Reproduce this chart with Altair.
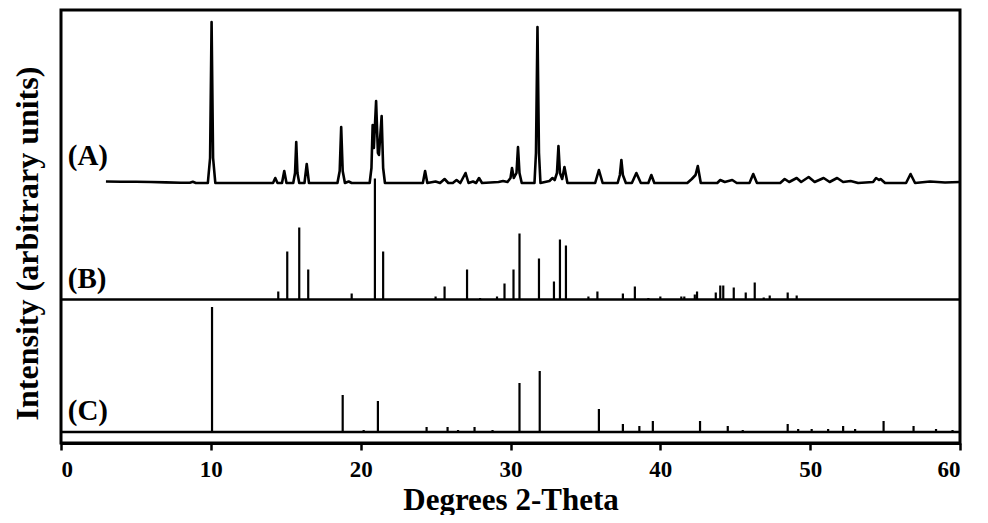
import altair as alt
import pandas as pd

# ---------------- data ----------------
# (A) measured pattern: 2-theta and intensity above its own baseline
a_tth = [3.0, 4.0, 5.0, 6.0, 7.0, 8.0, 8.6, 8.8, 9.0, 9.8, 9.95, 10.05, 10.15, 10.3,
         14.15, 14.3, 14.45, 14.75, 14.9, 15.05, 15.5, 15.62, 15.7, 15.78, 15.9, 16.25, 16.4, 16.55,
         18.45, 18.6, 18.7, 18.8, 18.95, 19.2, 19.4, 20.6, 20.72, 20.8, 20.88, 21.03, 21.15, 21.22,
         21.4, 21.5, 21.62, 24.15, 24.3, 24.45, 25.0, 25.3, 25.6, 25.85, 26.15, 26.4, 26.65,
         27.0, 27.2, 27.5, 27.7, 27.9, 28.1, 29.2, 29.5, 29.8, 30.0, 30.1, 30.22, 30.4, 30.5,
         30.6, 30.75, 31.6, 31.7, 31.8, 31.9, 32.0, 32.6, 32.8, 32.95, 33.1, 33.2, 33.3, 33.45,
         33.6, 33.8, 35.65, 35.9, 36.15, 37.15, 37.3, 37.4, 37.5, 37.7, 38.1, 38.4, 38.7, 39.2,
         39.4, 39.6, 41.8, 42.1, 42.35, 42.5, 42.7, 43.8, 44.0, 44.3, 44.8, 45.1, 45.95, 46.2,
         46.45, 48.0, 48.3, 48.6, 49.1, 49.4, 49.9, 50.3, 50.9, 51.3, 51.8, 52.2, 52.7, 53.2,
         54.2, 54.4, 54.6, 54.7, 55.0, 56.4, 56.7, 57.0, 58.0, 58.5, 59.0, 60.0]
a_int = [1.5, 1.3, 1.2, 1.0, 0.6, 0.3, 0.3, 1.2, 0.0, 0.0, 25, 161, 25, 0.0,
         0.0, 5, 0.0, 0.0, 12, 0.0, 0.0, 10, 41, 10, 0.0, 0.0, 19, 0.0,
         0.0, 12, 56, 12, 0.0, 1.5, 0.0, 0.0, 15, 58, 35, 82, 30, 28,
         67, 15, 0.0, 0.0, 12, 0.0, 1.5, 0.0, 4, 0.0, 0.0, 3, 0.0,
         10, 0.0, 1.5, 0.0, 5, 0.0, 1.0, 2.0, 1.0, 5, 15, 5, 10, 36,
         10, 0.0, 0.0, 30, 156, 30, 0.0, 2.0, 5, 3, 10, 37, 10, 4,
         16, 0.0, 0.0, 13, 0.0, 0.0, 8, 23, 8, 0.0, 0.0, 10, 0.0, 0.0,
         8, 0.0, 0.0, 4, 8, 17, 0.0, 0.0, 3, 1.0, 3, 0.0, 0.0, 9,
         0.0, 0.0, 4, 1.0, 5, 1.0, 6, 1.0, 5, 1.0, 5, 1.0, 2.0, 0.0,
         1.0, 5, 3, 4, 0.0, 0.0, 9, 0.0, 1.5, 1.0, 0.5, 1.0]

# (B) reference stick pattern
b_tth = [14.5, 15.1, 15.9, 16.5, 19.4, 20.95, 21.5, 25.0, 25.6, 27.1, 27.97, 29.1, 29.6, 30.2,
         30.6, 31.9, 32.9, 33.3, 33.7, 35.2, 35.8, 37.5, 38.3, 39.2, 40.0, 41.4, 41.6, 42.3,
         42.45, 43.7, 44.0, 44.2, 44.9, 45.7, 46.3, 46.9, 47.3, 48.5, 49.1]
b_int = [8, 48, 72, 30, 6, 121, 48, 3, 13, 30, 1.5, 3, 16, 30,
         66, 41, 18, 60, 54, 3, 8, 6, 13, 1.5, 3, 3, 3, 5,
         8, 7, 14, 14, 12, 7, 17, 2, 4, 7, 4]

# (C) reference stick pattern
c_tth = [10.08, 18.8, 20.2, 21.15, 24.4, 25.8, 26.5, 27.6, 28.8, 30.6, 31.95, 35.9, 37.5, 38.6,
         39.5, 42.65, 44.5, 45.5, 48.5, 49.2, 50.1, 51.2, 52.2, 53.0, 54.9, 56.9, 58.4, 59.5]
c_int = [125, 37, 2, 31, 5, 5, 2, 5, 2, 49, 61, 23, 8, 6,
         11, 11, 6, 2, 8, 3, 3, 3, 6, 3, 11, 6, 3, 2]

x_ticks = [0, 10, 20, 30, 40, 50, 60]
pattern_names = ["(A)", "(B)", "(C)"]

# vertical stacking of the three patterns (in intensity units)
offset_a = 260
offset_b = 143.5
offset_c = 11
label_level = [278, 155, 23]
label_tth = 0.45

FONT = "Liberation Serif"

# ---------------- tables ----------------
df_a = pd.DataFrame({"tth": a_tth, "y": [offset_a + v for v in a_int]})
df_b = pd.DataFrame({"tth": b_tth, "y0": offset_b, "y1": [offset_b + v for v in b_int]})
df_c = pd.DataFrame({"tth": c_tth, "y0": offset_c, "y1": [offset_c + v for v in c_int]})
df_base = pd.DataFrame({"x0": [0, 0], "x1": [60, 60], "y": [offset_b, offset_c]})
df_lab = pd.DataFrame({"tth": [label_tth] * 3, "y": label_level, "name": pattern_names})

xscale = alt.Scale(domain=[0, 60], nice=False, zero=False)
yscale = alt.Scale(domain=[0, 433], nice=False, zero=False)

xaxis = alt.Axis(values=x_ticks, format="d", title="Degrees 2-Theta", grid=False,
                 tickSize=7, tickWidth=2.5, tickColor="black", domainColor="black",
                 domainWidth=3, labelFont=FONT, labelFontSize=23, labelFontWeight="bold",
                 labelColor="black", labelPadding=8, titleFont=FONT, titleFontSize=31,
                 titleFontWeight="bold", titleColor="black", titleBaseline="alphabetic",
                 titleY=66)
yaxis = alt.Axis(title="Intensity (arbitrary units)", labels=False, ticks=False, domain=False,
                 grid=False, titleFont=FONT, titleFontSize=32, titleFontWeight="bold",
                 titleColor="black", titleAngle=270, titleBaseline="alphabetic",
                 titleAlign="center", titleX=-24, titleY=233)

line_a = alt.Chart(df_a).mark_line(color="black", strokeWidth=2.6, strokeJoin="round").encode(
    x=alt.X("tth:Q", scale=xscale, axis=xaxis),
    y=alt.Y("y:Q", scale=yscale, axis=yaxis),
)

sticks_b = alt.Chart(df_b).mark_rule(color="black", strokeWidth=2.2).encode(
    x=alt.X("tth:Q", scale=xscale), y=alt.Y("y0:Q", scale=yscale), y2="y1:Q")
sticks_c = alt.Chart(df_c).mark_rule(color="black", strokeWidth=2.2).encode(
    x=alt.X("tth:Q", scale=xscale), y=alt.Y("y0:Q", scale=yscale), y2="y1:Q")

baselines = alt.Chart(df_base).mark_rule(color="black", strokeWidth=2.5).encode(
    x=alt.X("x0:Q", scale=xscale), x2="x1:Q", y=alt.Y("y:Q", scale=yscale))

labels = alt.Chart(df_lab).mark_text(font=FONT, fontSize=29, fontWeight="bold", color="black",
                                     align="left", baseline="alphabetic").encode(
    x=alt.X("tth:Q", scale=xscale), y=alt.Y("y:Q", scale=yscale), text="name:N")

chart = alt.layer(line_a, sticks_b, sticks_c, baselines, labels).properties(
    width=899, height=433,
    autosize=alt.AutoSizeParams(type="none"),
    padding={"left": 53, "top": 2, "right": 10, "bottom": 72},
    background="white",
).configure_view(stroke="black", strokeWidth=3)

chart.save("out.html", embed_options={"renderer": "svg", "actions": False})
